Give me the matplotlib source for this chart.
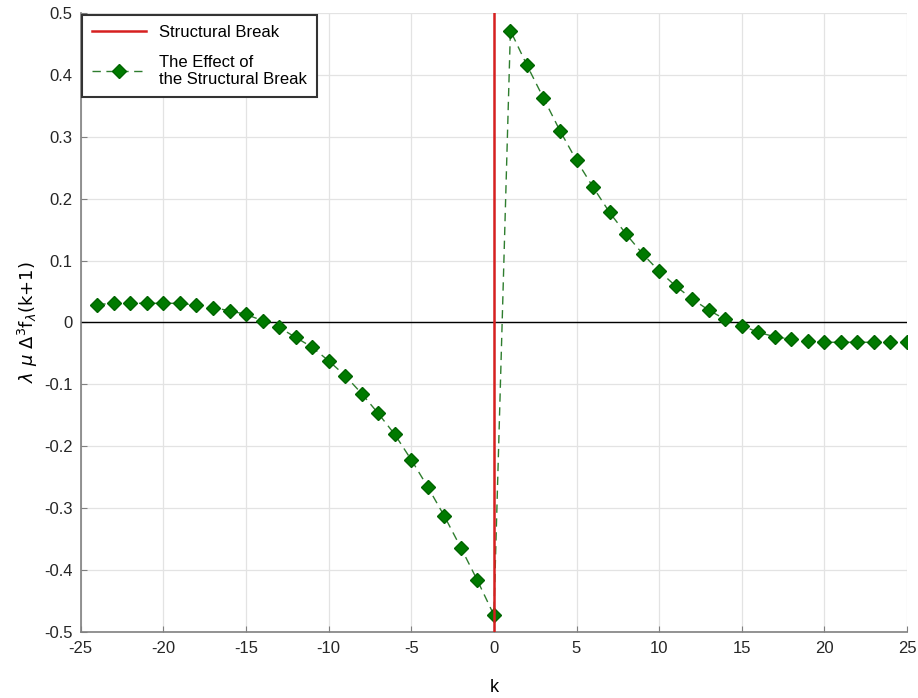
import matplotlib
matplotlib.use("Agg")
import matplotlib.pyplot as plt
import numpy as np
from matplotlib.ticker import FormatStrFormatter

plt.rcParams['font.family'] = ['Liberation Sans', 'DejaVu Sans']
plt.rcParams['axes.unicode_minus'] = False
plt.rcParams['mathtext.fontset'] = 'dejavusans'

# data
k = np.arange(-24, 26)
effect = [0.029, 0.031, 0.031, 0.031, 0.031, 0.031, 0.028, 0.024, 0.019, 0.013,
          0.003, -0.008, -0.024, -0.040, -0.062, -0.086, -0.115, -0.147, -0.181, -0.222,
          -0.266, -0.313, -0.364, -0.417, -0.473,
          0.472, 0.416, 0.363, 0.310, 0.262, 0.219, 0.178, 0.143, 0.111, 0.083,
          0.059, 0.038, 0.020, 0.005, -0.005, -0.016, -0.023, -0.027, -0.030, -0.032,
          -0.032, -0.032, -0.032, -0.032, -0.031]
break_k = 0
xticks = [-25, -20, -15, -10, -5, 0, 5, 10, 15, 20, 25]
yticks = [-0.5, -0.4, -0.3, -0.2, -0.1, 0, 0.1, 0.2, 0.3, 0.4, 0.5]

fig = plt.figure(figsize=(9.18, 6.98), dpi=100)
ax = fig.add_axes([0.088, 0.095, 0.900, 0.886])

ax.grid(True, color='#e3e3e3', linewidth=0.9)
ax.set_axisbelow(True)
ax.axhline(0, color='black', linewidth=1.0, zorder=1)
ax.axvline(break_k, color='#d62020', linewidth=1.8, label='Structural Break', zorder=3)
ax.plot(k, effect, linestyle='--', color='#2e7d2e', marker='D', markersize=7,
        markerfacecolor='#007a00', markeredgecolor='#006400',
        linewidth=1.0, dashes=(6, 4), label='The Effect of\nthe Structural Break', zorder=2)

ax.set_xlim(-25, 25)
ax.set_ylim(-0.5, 0.5)
ax.set_xticks(xticks)
ax.set_yticks(yticks)
ax.yaxis.set_major_formatter(FormatStrFormatter('%g'))
ax.tick_params(direction='in', length=4, labelsize=12, colors='#262626')
ax.tick_params(axis='x', pad=7)
ax.tick_params(axis='y', pad=6)
for s in ['top', 'right']:
    ax.spines[s].set_visible(False)
for s in ['left', 'bottom']:
    ax.spines[s].set_color('#808080')
    ax.spines[s].set_linewidth(1.2)
ax.tick_params(color='#808080')

ax.set_xlabel('k', fontsize=13, labelpad=16)
ax.set_ylabel(r'$\lambda\ \mu\ \Delta^{3}\mathrm{f}_{\lambda}\mathrm{(k{+}1)}$', fontsize=13, labelpad=3)

leg = ax.legend(loc='upper left', fancybox=False, framealpha=1, fontsize=12,
                edgecolor='#333333', borderaxespad=0.1, handlelength=3.2,
                labelspacing=0.9, borderpad=0.6)
leg.get_frame().set_linewidth(1.5)

fig.savefig('out.png', dpi=100)
